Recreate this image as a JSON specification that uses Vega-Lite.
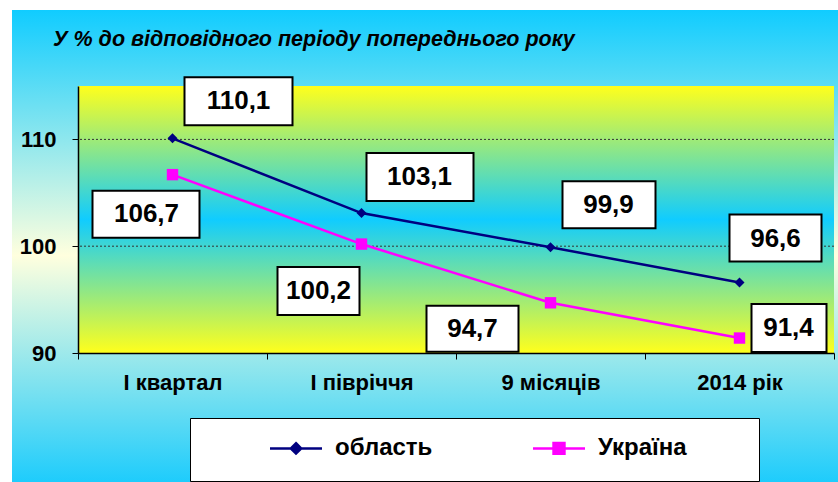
{
  "$schema": "https://vega.github.io/schema/vega-lite/v6.json",
  "width": 756,
  "height": 267,
  "padding": {"left": 12, "top": 10, "right": 0, "bottom": 0},
  "autosize": {"type": "pad"},
  "background": "#FFFFFF",
  "config": {
    "locale": {"number": {"decimal": ",", "thousands": " ", "grouping": [3], "currency": ["", ""]}},
    "view": {"stroke": null},
    "font": "Liberation Sans",
    "axisY": {"labelFont": "Liberation Sans", "labelFontSize": 22, "labelFontWeight": "bold", "labelColor": "#000000", "labelPadding": 16, "tickSize": 6, "tickColor": "#000000", "domainColor": "#000000", "domainWidth": 1.5, "grid": false}
  },
  "title": {
    "text": "У % до відповідного періоду попереднього року",
    "anchor": "start",
    "frame": "group",
    "orient": "top",
    "dx": -25,
    "offset": -57,
    "baseline": "alphabetic",
    "font": "Liberation Sans",
    "fontSize": 21.5,
    "fontStyle": "italic",
    "fontWeight": "bold",
    "color": "#000000"
  },
  "resolve": {"scale": {"x": "independent"}},
  "layer": [
    {
      "data": {"values": [{}]},
      "layer": [
        {
          "mark": {"type": "rect", "color": {"gradient": "linear", "x1": 0, "y1": 0, "x2": 0, "y2": 1, "stops": [
            {"offset": 0, "color": "#10CCFF"},
            {"offset": 0.52, "color": "#FFFFDE"},
            {"offset": 1, "color": "#1ECCFC"}
          ]}},
          "encoding": {
            "x": {"datum": -0.0873, "type": "quantitative", "scale": {"domain": [0, 1], "nice": false, "zero": false}, "axis": null},
            "x2": {"datum": 1.0053},
            "y": {"datum": 122.116, "type": "quantitative", "scale": {"domain": [90, 115], "nice": false, "zero": false}, "axis": {"values": [90, 100, 110], "title": null, "zindex": 1}},
            "y2": {"datum": 77.921}
          }
        },
        {
          "mark": {"type": "rect", "color": {"gradient": "linear", "x1": 0, "y1": 0, "x2": 0, "y2": 1, "stops": [
            {"offset": 0, "color": "#FFFF1C"},
            {"offset": 0.5, "color": "#10CCFF"},
            {"offset": 1, "color": "#FFFF1C"}
          ]}},
          "encoding": {
            "x": {"datum": 0, "type": "quantitative", "scale": {"domain": [0, 1], "nice": false, "zero": false}, "axis": null},
            "x2": {"datum": 1},
            "y": {"datum": 115, "type": "quantitative", "axis": {"values": [90, 100, 110], "title": null, "zindex": 1}},
            "y2": {"datum": 90}
          }
        },
        {
          "data": {"values": [{"g": 100}, {"g": 110}]},
          "mark": {"type": "rule", "color": "#333333", "strokeWidth": 1, "strokeDash": [2, 2]},
          "encoding": {
            "y": {"field": "g", "type": "quantitative", "axis": {"values": [90, 100, 110], "title": null, "zindex": 1}}
          }
        }
      ]
    },
    {
      "data": {"values": [
        {"period": "І квартал", "series": "область", "value": 110.1},
        {"period": "І півріччя", "series": "область", "value": 103.1},
        {"period": "9 місяців", "series": "область", "value": 99.9},
        {"period": "2014 рік", "series": "область", "value": 96.6},
        {"period": "І квартал", "series": "Україна", "value": 106.7},
        {"period": "І півріччя", "series": "Україна", "value": 100.2},
        {"period": "9 місяців", "series": "Україна", "value": 94.7},
        {"period": "2014 рік", "series": "Україна", "value": 91.4}
      ]},
      "encoding": {
        "x": {
          "field": "period", "type": "nominal", "sort": null, "bandPosition": 0.5,
          "scale": {"type": "band", "paddingInner": 0, "paddingOuter": 0},
          "axis": {"title": null, "tickBand": "extent", "labelAngle": 0, "labelFont": "Liberation Sans", "labelFontSize": 22, "labelFontWeight": "bold", "labelColor": "#000000", "labelPadding": 13, "tickSize": 6, "tickColor": "#000000", "domainColor": "#000000", "domainWidth": 1.5, "grid": false, "zindex": 1}
        },
        "y": {
          "field": "value", "type": "quantitative",
          "scale": {"domain": [90, 115], "nice": false, "zero": false},
          "axis": {"values": [90, 100, 110], "title": null, "zindex": 1}
        }
      },
      "layer": [
        {
          "mark": {"type": "line", "strokeWidth": 2.5},
          "encoding": {
            "color": {
              "field": "series", "type": "nominal",
              "scale": {"domain": ["область", "Україна"], "range": ["#000080", "#FF00FF"]},
              "legend": {
                "orient": "none", "legendX": 112, "legendY": 332, "direction": "horizontal", "title": null,
                "fillColor": "#FFFFFF", "strokeColor": "#000000", "padding": 2.5, "columnPadding": 23,
                "symbolOffset": 76, "labelOffset": 11.5,
                "symbolSize": 2704, "symbolStrokeWidth": 2.5,
                "labelFont": "Liberation Sans", "labelFontSize": 24, "labelFontWeight": "bold", "labelColor": "#000000", "labelLimit": 400,
                "encode": {"symbols": {"update": {
                  "shape": {"signal": "datum.value === 'область' ? 'M-1,0H1M0,-0.2L0.2,0L0,0.2L-0.2,0ZM0,0.95' : 'M-1,0H1M-0.21,-0.21H0.21V0.21H-0.21ZM7.38,0.95'"},
                  "fill": {"signal": "datum.value === 'область' ? '#000080' : '#FF00FF'"},
                  "stroke": {"signal": "datum.value === 'область' ? '#000080' : '#FF00FF'"},
                  "strokeWidth": {"value": 2.5},
                  "opacity": {"value": 1}
                }}}
              }
            }
          }
        },
        {
          "transform": [{"filter": "datum.series === 'область'"}],
          "mark": {"type": "point", "shape": "diamond", "filled": true, "color": "#000080", "size": 100, "opacity": 1}
        },
        {
          "transform": [{"filter": "datum.series === 'Україна'"}],
          "mark": {"type": "point", "shape": "square", "filled": true, "color": "#FF00FF", "size": 130, "opacity": 1}
        },
        {
          "transform": [{"filter": "datum.series === 'область' && datum.period === 'І квартал'"}],
          "layer": [
            {"mark": {"type": "point", "shape": "M1.2,-6.1H12V-1.3H1.2Z", "size": 400, "filled": true, "fill": "#FFFFFF", "stroke": "#000000", "strokeWidth": 2, "opacity": 1}},
            {"mark": {"type": "text", "dx": 66, "dy": -37, "font": "Liberation Sans", "fontSize": 26, "fontWeight": "bold", "color": "#000000", "align": "center", "baseline": "middle"},
             "encoding": {"text": {"field": "value", "type": "quantitative", "format": ".1f"}}}
          ]
        },
        {
          "transform": [{"filter": "datum.series === 'область' && datum.period === 'І півріччя'"}],
          "layer": [
            {"mark": {"type": "point", "shape": "M0.5,-6H11.2V-1.2H0.5Z", "size": 400, "filled": true, "fill": "#FFFFFF", "stroke": "#000000", "strokeWidth": 2, "opacity": 1}},
            {"mark": {"type": "text", "dx": 58, "dy": -36, "font": "Liberation Sans", "fontSize": 26, "fontWeight": "bold", "color": "#000000", "align": "center", "baseline": "middle"},
             "encoding": {"text": {"field": "value", "type": "quantitative", "format": ".1f"}}}
          ]
        },
        {
          "transform": [{"filter": "datum.series === 'область' && datum.period === '9 місяців'"}],
          "layer": [
            {"mark": {"type": "point", "shape": "M1.2,-6.6H10.5V-1.9H1.2Z", "size": 400, "filled": true, "fill": "#FFFFFF", "stroke": "#000000", "strokeWidth": 2, "opacity": 1}},
            {"mark": {"type": "text", "dx": 58, "dy": -42, "font": "Liberation Sans", "fontSize": 26, "fontWeight": "bold", "color": "#000000", "align": "center", "baseline": "middle"},
             "encoding": {"text": {"field": "value", "type": "quantitative", "format": ".1f"}}}
          ]
        },
        {
          "transform": [{"filter": "datum.series === 'область' && datum.period === '2014 рік'"}],
          "layer": [
            {"mark": {"type": "point", "shape": "M-1,-6.8H8.2V-2.1H-1Z", "size": 400, "filled": true, "fill": "#FFFFFF", "stroke": "#000000", "strokeWidth": 2, "opacity": 1}},
            {"mark": {"type": "text", "dx": 36, "dy": -44, "font": "Liberation Sans", "fontSize": 26, "fontWeight": "bold", "color": "#000000", "align": "center", "baseline": "middle"},
             "encoding": {"text": {"field": "value", "type": "quantitative", "format": ".1f"}}}
          ]
        },
        {
          "transform": [{"filter": "datum.series === 'Україна' && datum.period === 'І квартал'"}],
          "layer": [
            {"mark": {"type": "point", "shape": "M-8,1.6H2.7V6.3H-8Z", "size": 400, "filled": true, "fill": "#FFFFFF", "stroke": "#000000", "strokeWidth": 2, "opacity": 1}},
            {"mark": {"type": "text", "dx": -26, "dy": 39, "font": "Liberation Sans", "fontSize": 26, "fontWeight": "bold", "color": "#000000", "align": "center", "baseline": "middle"},
             "encoding": {"text": {"field": "value", "type": "quantitative", "format": ".1f"}}}
          ]
        },
        {
          "transform": [{"filter": "datum.series === 'Україна' && datum.period === 'І півріччя'"}],
          "layer": [
            {"mark": {"type": "point", "shape": "M-8.4,2.3H-0.2V7.1H-8.4Z", "size": 400, "filled": true, "fill": "#FFFFFF", "stroke": "#000000", "strokeWidth": 2, "opacity": 1}},
            {"mark": {"type": "text", "dx": -43, "dy": 47, "font": "Liberation Sans", "fontSize": 26, "fontWeight": "bold", "color": "#000000", "align": "center", "baseline": "middle"},
             "encoding": {"text": {"field": "value", "type": "quantitative", "format": ".1f"}}}
          ]
        },
        {
          "transform": [{"filter": "datum.series === 'Україна' && datum.period === '9 місяців'"}],
          "layer": [
            {"mark": {"type": "point", "shape": "M-12.4,0.3H-3.2V4.9H-12.4Z", "size": 400, "filled": true, "fill": "#FFFFFF", "stroke": "#000000", "strokeWidth": 2, "opacity": 1}},
            {"mark": {"type": "text", "dx": -78, "dy": 26, "font": "Liberation Sans", "fontSize": 26, "fontWeight": "bold", "color": "#000000", "align": "center", "baseline": "middle"},
             "encoding": {"text": {"field": "value", "type": "quantitative", "format": ".1f"}}}
          ]
        },
        {
          "transform": [{"filter": "datum.series === 'Україна' && datum.period === '2014 рік'"}],
          "layer": [
            {"mark": {"type": "point", "shape": "M1.2,-3.4H8.7V1.4H1.2Z", "size": 400, "filled": true, "fill": "#FFFFFF", "stroke": "#000000", "strokeWidth": 2, "opacity": 1}},
            {"mark": {"type": "text", "dx": 49, "dy": -10, "font": "Liberation Sans", "fontSize": 26, "fontWeight": "bold", "color": "#000000", "align": "center", "baseline": "middle"},
             "encoding": {"text": {"field": "value", "type": "quantitative", "format": ".1f"}}}
          ]
        }
      ]
    }
  ]
}
